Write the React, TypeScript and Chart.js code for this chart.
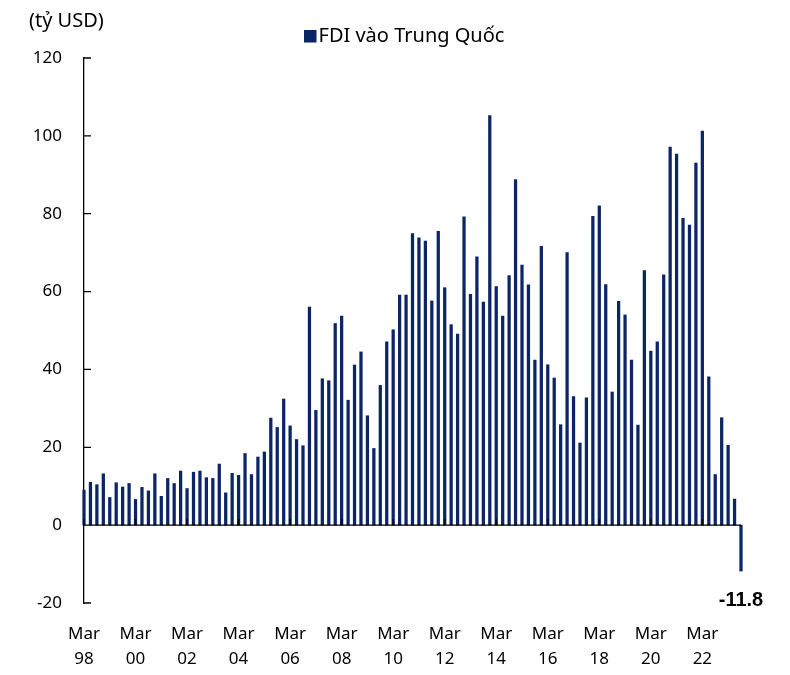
import React, { useEffect, useRef } from "react";
import { Chart, registerables } from "chart.js";

Chart.register(...registerables);

// Quarterly FDI into China (billion USD), Mar 98 .. Sep 23
const startYear = 1998;
const quarterMonths = ["Mar", "Jun", "Sep", "Dec"];
const fdiValues = [
  9.0, 11.0, 10.4, 13.2,
  7.1, 10.9, 9.8, 10.7,
  6.6, 9.7, 8.8, 13.2,
  7.4, 12.0, 10.7, 13.9,
  9.4, 13.6, 13.9, 12.2,
  12.0, 15.7, 8.3, 13.3,
  12.8, 18.4, 13.0, 17.5,
  18.8, 27.5, 25.1, 32.4,
  25.5, 22.0, 20.4, 56.0,
  29.5, 37.6, 37.1, 51.8,
  53.7, 32.1, 41.1, 44.5,
  28.1, 19.7, 35.9, 47.1,
  50.2, 59.1, 59.1, 74.9,
  73.8, 73.0, 57.6, 75.5,
  61.0, 51.5, 49.1, 79.2,
  59.3, 68.9, 57.3, 105.2,
  61.3, 53.7, 64.1, 88.8,
  66.8, 61.7, 42.4, 71.6,
  41.2, 37.8, 25.8, 70.0,
  33.0, 21.1, 32.7, 79.3,
  82.0, 61.8, 34.2, 57.5,
  54.0, 42.4, 25.7, 65.4,
  44.7, 47.1, 64.3, 97.1,
  95.3, 78.8, 77.1, 93.0,
  101.2, 38.1, 13.0, 27.6,
  20.5, 6.7, -11.8,
];
const categories = fdiValues.map(
  (_, i) =>
    `${quarterMonths[i % 4]} ${String((startYear + Math.floor(i / 4)) % 100).padStart(2, "0")}`
);
const xTickLabels = [
  "Mar 98", "Mar 00", "Mar 02", "Mar 04", "Mar 06", "Mar 08", "Mar 10",
  "Mar 12", "Mar 14", "Mar 16", "Mar 18", "Mar 20", "Mar 22",
];
const yTicks = [-20, 0, 20, 40, 60, 80, 100, 120];
const seriesLabel = "FDI vào Trung Quốc";
const unitLabel = "(tỷ USD)";
const highlightedIndex = fdiValues.length - 1;

const BAR_COLOR = "#0b2566";
const FONT = "'Noto Sans', sans-serif";

export default function App() {
  const ref = useRef<HTMLCanvasElement>(null);

  useEffect(() => {
    const canvas = ref.current;
    if (!canvas) return;

    const overlay = {
      id: "overlay",
      afterDatasetsDraw(chart: any) {
        const { ctx, chartArea, scales } = chart;
        const xs = scales.x;
        const ys = scales.y;
        const y0 = ys.getPixelForValue(0);
        ctx.save();
        ctx.strokeStyle = "#000";
        ctx.lineWidth = 1.3;
        ctx.beginPath();
        ctx.moveTo(chartArea.left, y0);
        ctx.lineTo(chartArea.right, y0);
        categories.forEach((c, i) => {
          if (xTickLabels.includes(c)) {
            const px = xs.getPixelForValue(i);
            ctx.moveTo(px, y0);
            ctx.lineTo(px, y0 - 6);
          }
        });
        yTicks.forEach((v) => {
          const py = ys.getPixelForValue(v);
          ctx.moveTo(chartArea.left, py);
          ctx.lineTo(chartArea.left + 7, py);
        });
        ctx.stroke();

        // data label for last bar
        const meta = chart.getDatasetMeta(0);
        const el = meta.data[highlightedIndex];
        if (el) {
          ctx.fillStyle = "#000";
          ctx.font = `bold 20px 'Liberation Sans', Arial, sans-serif`;
          ctx.textAlign = "center";
          ctx.textBaseline = "middle";
          ctx.fillText(fdiValues[highlightedIndex].toFixed(1), el.x, el.y + 29);
        }

        // unit label and legend
        ctx.fillStyle = "#000";
        ctx.font = `20px ${FONT}`;
        ctx.textAlign = "left";
        ctx.textBaseline = "middle";
        ctx.fillText(unitLabel, 21, 13.5);

        ctx.fillStyle = BAR_COLOR;
        ctx.fillRect(296, 22, 12.5, 12.5);
        ctx.fillStyle = "#000";
        ctx.fillText(chart.data.datasets[0].label, 310.5, 28.5);
        ctx.restore();
      },
    };

    const chart = new Chart(canvas, {
      type: "bar",
      data: {
        labels: categories,
        datasets: [
          {
            label: seriesLabel,
            data: fdiValues,
            backgroundColor: BAR_COLOR,
            borderWidth: 0,
            barThickness: 2.6,
            clip: false,
          },
        ],
      },
      options: {
        animation: false,
        responsive: true,
        maintainAspectRatio: false,
        layout: { padding: { left: 0, right: 41, top: 50, bottom: 0 } },
        plugins: {
          legend: { display: false },
          tooltip: { enabled: false },
        },
        scales: {
          x: {
            type: "category",
            offset: false,
            grid: { display: false, drawTicks: false },
            border: { display: false },
            afterFit: (s: any) => {
              s.height = 64;
            },
            ticks: {
              autoSkip: false,
              maxRotation: 0,
              minRotation: 0,
              padding: 18,
              color: "#000",
              font: { family: FONT, size: 17, lineHeight: 1.5 },
              callback: (_v: any, i: number) => {
                const c = categories[i];
                return xTickLabels.includes(c) ? c.split(" ") : "";
              },
            },
          },
          y: {
            min: -20,
            max: 120,
            afterFit: (s: any) => {
              s.width = 76;
            },
            grid: { display: false, drawTicks: false },
            border: { display: true, color: "#000", width: 1.3 },
            ticks: {
              stepSize: 20,
              padding: 22,
              color: "#000",
              font: { family: FONT, size: 17 },
            },
          },
        },
      },
      plugins: [overlay],
    });

    return () => chart.destroy();
  }, []);

  return (
    <div style={{ position: "relative", width: "774px", height: "659px" }}>
      <canvas ref={ref} />
    </div>
  );
}
